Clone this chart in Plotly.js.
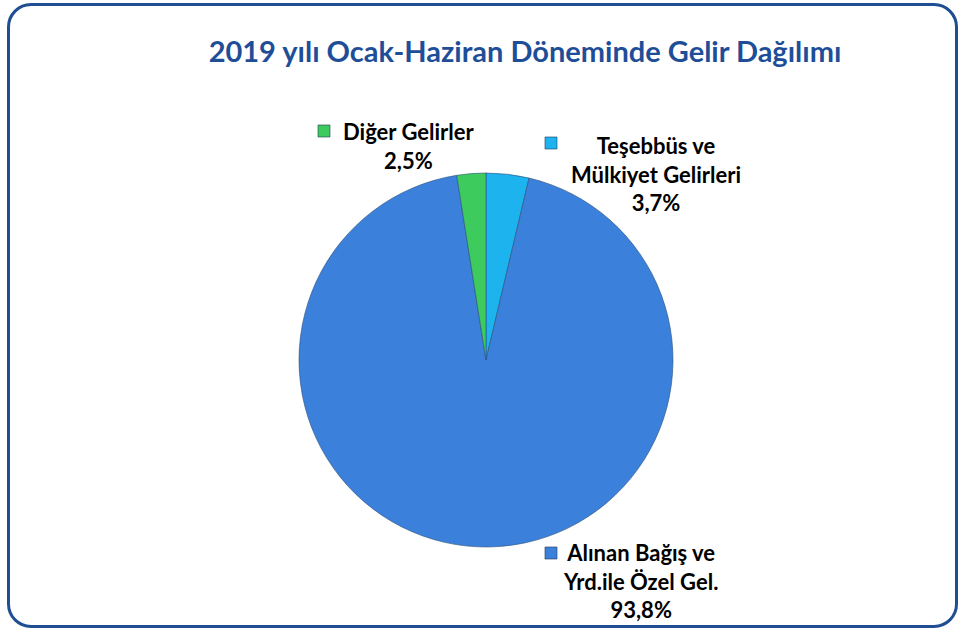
<!DOCTYPE html>
<html><head><meta charset="utf-8">
<script src="https://cdn.plot.ly/plotly-3.0.1.min.js"></script>
<style>
html,body{margin:0;padding:0;background:#fff;}
#wrap{position:relative;width:963px;height:633px;}
#frame{position:absolute;left:7px;top:3px;width:951px;height:625px;border:3px solid #1F4E93;border-radius:24px;box-sizing:border-box;pointer-events:none;z-index:2;}
#chart{position:absolute;left:0;top:0;width:963px;height:633px;}
</style></head>
<body><div id="wrap"><div id="chart"></div><div id="frame"></div></div>
<script>
const categories = ["Teşebbüs ve Mülkiyet Gelirleri", "Alınan Bağış ve Yrd.ile Özel Gel.", "Diğer Gelirler"];
const values = [3.7, 93.8, 2.5];
const valueLabels = ["3,7%", "93,8%", "2,5%"];
const labelLines = [["Teşebbüs ve", "Mülkiyet Gelirleri"], ["Alınan Bağış ve", "Yrd.ile Özel Gel."], ["Diğer Gelirler"]];
const colors = ["#1DB3EE", "#3B80DA", "#3ECB5E"];

const W = 963, H = 633;
const px = x => x / W, py = y => 1 - y / H;
const font = "Lato, 'Open Sans', sans-serif";

const trace = {
  type: "pie", labels: categories, values: values, sort: false,
  direction: "clockwise", rotation: 0,
  marker: {colors: colors, line: {color: "#2b4f7a", width: 0.6}},
  textinfo: "none", hoverinfo: "none", showlegend: false,
  domain: {x: [px(299), px(673)], y: [py(547), py(173)]}
};

const labelPos = [{x: 656, y: 174}, {x: 640, y: 581}, {x: 408, y: 146}];
const markerPos = [{x: 551, y: 143}, {x: 551, y: 553}, {x: 324, y: 131}];
const annotations = [], shapes = [];
categories.forEach((c, i) => {
  annotations.push({
    xref: "paper", yref: "paper", x: px(labelPos[i].x), y: py(labelPos[i].y),
    xanchor: "center", yanchor: "middle", align: "center", showarrow: false,
    text: labelLines[i].map(s => "<b>" + s + "</b>").join("<br>") + "<br><b>" + valueLabels[i] + "</b>",
    font: {family: font, size: 22, color: "#000"}
  });
  const m = markerPos[i];
  shapes.push({type: "rect", xref: "paper", yref: "paper",
    x0: px(m.x - 6), x1: px(m.x + 6), y0: py(m.y + 6), y1: py(m.y - 6),
    fillcolor: colors[i], line: {color: "#1d3a5c", width: 0.6}});
});

const layout = {
  width: W, height: H, margin: {l: 0, r: 0, t: 0, b: 0},
  paper_bgcolor: "#fff",
  title: {text: "<b>2019 yılı Ocak-Haziran Döneminde Gelir Dağılımı</b>",
    x: px(525), xanchor: "center", y: py(52), yanchor: "middle",
    font: {family: font, size: 29, color: "#1F4E99"}},
  annotations: annotations, shapes: shapes
};
Plotly.newPlot("chart", [trace], layout, {displayModeBar: false, staticPlot: true});
</script></body></html>
